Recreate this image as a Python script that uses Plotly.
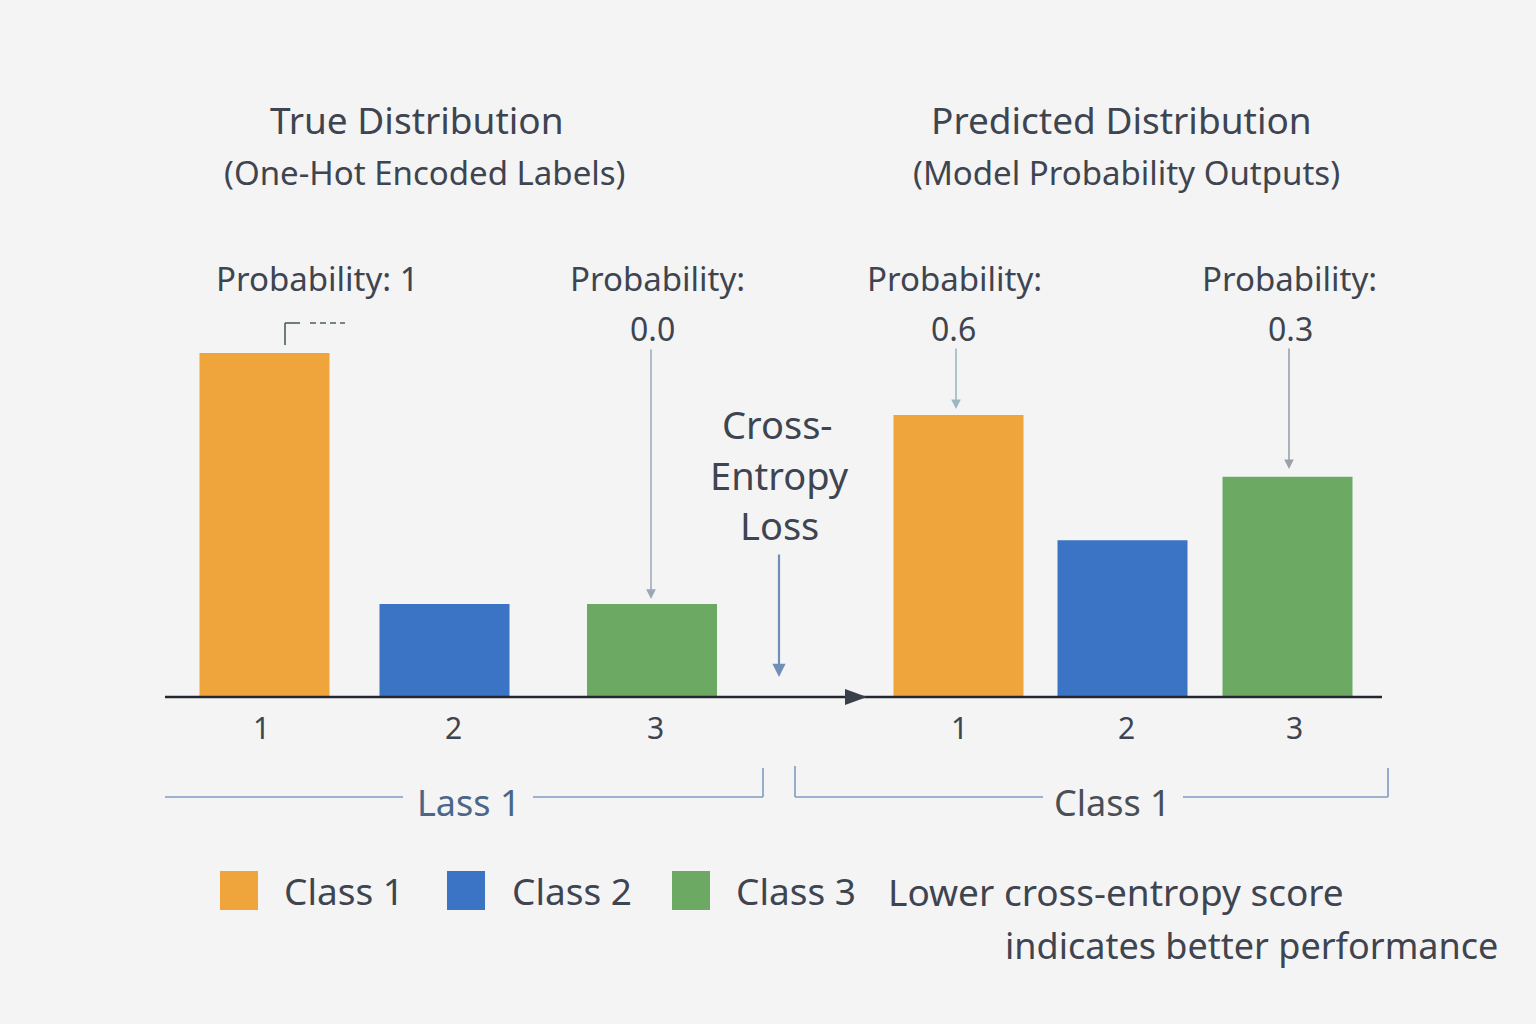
import plotly.graph_objects as go

# ---------------- data ----------------
class_names = ["Class 1", "Class 2", "Class 3"]
tick_labels = ["1", "2", "3"]
true_values = [1.0, 0.27, 0.27]          # bar heights (true distribution panel)
pred_values = [0.82, 0.456, 0.64]        # bar heights (predicted distribution panel)
true_prob_labels = ["Probability: 1", "0.0"]
pred_prob_labels = ["0.6", "0.3"]
colors = ["#f0a43c", "#3b73c5", "#6caa64"]

# ---------------- layout constants ----------------
W, H = 1536, 1024
BASE_PX = 697
PX_PER_UNIT = 344.0
true_x = [264.5, 444.5, 652]
pred_x = [958.5, 1122.5, 1287.5]
BAR_W = 130
FONT = "Noto Sans"
TXT = "#3e4450"
BG = "#f4f4f4"


def py(y):
    return 1 - y / H


fig = go.Figure()
for i in range(3):
    fig.add_trace(go.Bar(x=[true_x[i]], y=[true_values[i]], width=BAR_W,
                         marker=dict(color=colors[i], line=dict(width=0)),
                         name=class_names[i], showlegend=False, hoverinfo="skip"))
    fig.add_trace(go.Bar(x=[pred_x[i]], y=[pred_values[i]], width=BAR_W,
                         marker=dict(color=colors[i], line=dict(width=0)),
                         name=class_names[i], showlegend=False, hoverinfo="skip"))

shapes = []
ann = []


def text(x, y, s, size, color=TXT, xanchor="center"):
    ann.append(dict(x=x, y=py(y), xref="x", yref="paper", text=s, showarrow=False,
                    xanchor=xanchor, yanchor="middle",
                    font=dict(family=FONT, size=size, color=color)))


def line(x0, y0, x1, y1, color, width=1.6, dash="solid"):
    shapes.append(dict(type="line", xref="x", yref="paper", x0=x0, y0=py(y0), x1=x1, y1=py(y1),
                       line=dict(color=color, width=width, dash=dash)))


def arrow(x, y0, y1, color, width=1.5, head=2, size=1.2):
    ann.append(dict(x=x, y=py(y1), xref="x", yref="paper", ax=0, ay=-(y1 - y0),
                    axref="pixel", ayref="pixel", text="", showarrow=True,
                    arrowhead=head, arrowsize=size, arrowwidth=width, arrowcolor=color))


# titles
text(417, 119, "True Distribution", 37)
text(424, 172, "(One-Hot Encoded Labels)", 33)
text(1121, 119, "Predicted Distribution", 37)
text(1126, 172, "(Model Probability Outputs)", 33)

# probability labels
text(317, 278, true_prob_labels[0], 33)
text(657, 278, "Probability:", 33)
text(652, 328, true_prob_labels[1], 32)
text(954, 278, "Probability:", 33)
text(953, 328, pred_prob_labels[0], 32)
text(1289, 278, "Probability:", 33)
text(1290, 328, pred_prob_labels[1], 32)

# cross-entropy label
text(777, 424, "Cross-", 38)
text(779, 475, "Entropy", 38)
text(779, 525, "Loss", 38)

# arrows
arrow(651, 348, 599, "#9ba7b8", width=1.5, head=2, size=1.3)
arrow(779, 553, 677, "#6f8fb8", width=2.2, head=2, size=1.2)
arrow(956, 347, 409, "#9db7c1", width=1.6, head=2, size=1.2)
arrow(1289, 347, 469, "#9aa1ab", width=1.6, head=2, size=1.2)

# bracket near first bar
line(285, 345, 285, 323, "#4f5e5e", 1.6)
line(285, 323, 300, 323, "#4f5e5e", 1.6)
line(310, 323, 345, 323, "#4f5e5e", 1.6, dash="6px,4px")

# baseline axis
line(165, BASE_PX, 1382, BASE_PX, "#23282f", 2.6)
shapes.append(dict(type="path", xref="x", yref="paper",
                   path=f"M 845 {py(689)} L 867 {py(697)} L 845 {py(705)} Z",
                   fillcolor="#3a4049", line=dict(width=0)))

# tick labels
for xx, t in zip([261, 453, 655], tick_labels):
    text(xx, 727, t, 30)
for xx, t in zip([959, 1126, 1294], tick_labels):
    text(xx, 727, t, 30)

# bottom brackets
BR = "#7f9cc0"
line(165, 797, 403, 797, BR, 1.6)
line(533, 797, 763, 797, BR, 1.6)
line(763, 797, 763, 768, BR, 1.6)
text(469, 802, "Lass 1", 36, color="#4c6688")
line(795, 766, 795, 797, BR, 1.6)
line(795, 797, 1043, 797, BR, 1.6)
line(1183, 797, 1388, 797, BR, 1.6)
line(1388, 797, 1388, 768, BR, 1.6)
text(1112, 802, "Class 1", 36, color="#4a4f56")

# legend
for x0, c, name, tx in zip([220, 447, 672], colors, class_names, [282, 510, 734]):
    shapes.append(dict(type="rect", xref="x", yref="paper", x0=x0, x1=x0 + 38,
                       y0=py(910), y1=py(871), fillcolor=c, line=dict(width=0)))
    text(tx, 890, name, 37, xanchor="left")
text(886, 891, "Lower cross-entropy score", 37, xanchor="left")
text(1500, 945, "indicates better performance", 36, xanchor="right")

y_top = BASE_PX / PX_PER_UNIT
y_bot = -(H - BASE_PX) / PX_PER_UNIT

fig.update_layout(
    width=W, height=H,
    margin=dict(l=0, r=0, t=0, b=0),
    paper_bgcolor=BG, plot_bgcolor=BG,
    barmode="overlay",
    xaxis=dict(range=[0, W], visible=False, fixedrange=True),
    yaxis=dict(range=[y_bot, y_top], visible=False, fixedrange=True),
    shapes=shapes, annotations=ann,
    showlegend=False,
)

fig.write_html("out.html", config={"displayModeBar": False})
